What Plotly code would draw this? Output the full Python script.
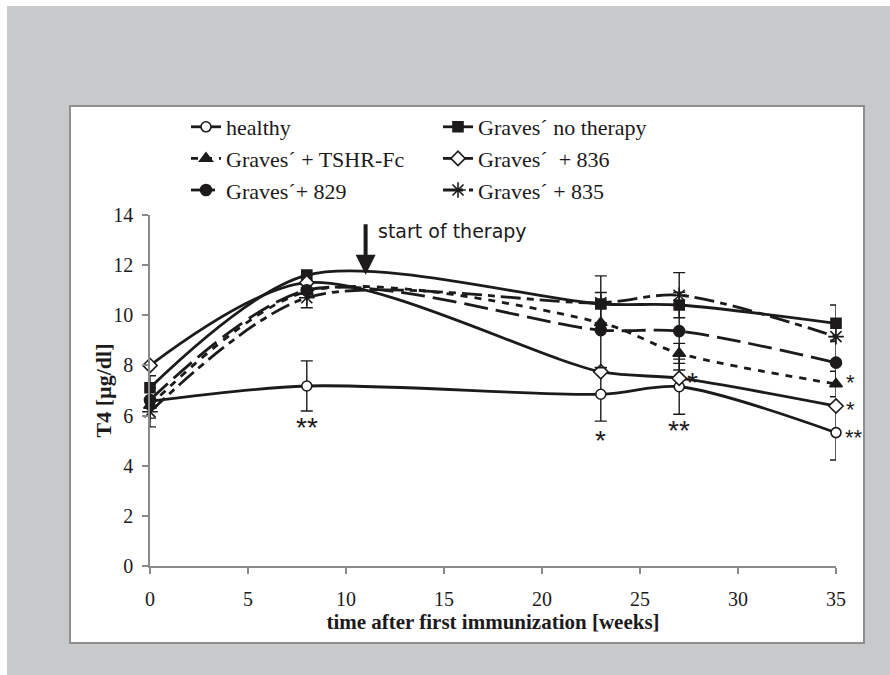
import plotly.graph_objects as go

# ---------------- data ----------------
weeks = [0, 8, 23, 27, 35]
series_names = ["healthy", "Graves\u00b4 no therapy", "Graves\u00b4 + TSHR-Fc",
                "Graves\u00b4 \u00a0+ 836", "Graves\u00b4+ 829", "Graves\u00b4 + 835"]
healthy = [6.57, 7.18, 6.85, 7.15, 5.32]
no_therapy = [7.11, 11.60, 10.45, 10.41, 9.68]
tshr_fc = [6.40, 10.95, 9.70, 8.48, 7.26]
g836 = [8.00, 11.30, 7.75, 7.49, 6.38]
g829 = [6.62, 11.00, 9.41, 9.37, 8.11]
g835 = [6.15, 10.70, 10.50, 10.80, 9.15]

err_healthy = [1.02, 1.00, 1.07, 1.10, 1.09]
err_no_therapy = [0.0, 0.0, 0.0, 0.0, 0.73]
err_tshr_fc = [0.0, 0.0, 0.0, 0.40, 0.51]
err_g836 = [0.0, 0.0, 0.0, 0.0, 0.0]
err_g829 = [0.0, 0.0, 1.50, 1.55, 0.90]
err_g835 = [0.25, 0.40, 1.07, 0.90, 0.0]

# significance marks: week, level, text, placement relative to the point
sig_x = [8, 23, 27, 27, 35, 35, 35]
sig_y = [5.75, 5.25, 5.65, 7.55, 7.48, 6.42, 5.28]
sig_text = ["**", "*", "**", "*", "*", "*", "**"]
sig_side = ["below", "below", "below", "right", "right", "right", "right"]

x_ticks = [0, 5, 10, 15, 20, 25, 30, 35]
y_ticks = [0, 2, 4, 6, 8, 10, 12, 14]

therapy_start_week = 11
therapy_start_level = 11.62

# ---------------- styling ----------------
INK = "#1c1a1b"
values = [healthy, no_therapy, tshr_fc, g836, g829, g835]
errors = [err_healthy, err_no_therapy, err_tshr_fc, err_g836, err_g829, err_g835]
styles = [
    dict(dash="solid", symbol="circle", fill="white", size=10),
    dict(dash="solid", symbol="square", fill=INK, size=10),
    dict(dash="7px,7px", symbol="triangle-up", fill=INK, size=11),
    dict(dash="solid", symbol="diamond", fill="white", size=11),
    dict(dash="24px,8px", symbol="circle", fill=INK, size=11),
    dict(dash="20px,6px,7px,6px", symbol="asterisk-open", fill=INK, size=13),
]

fig = go.Figure()
for name, ys, es, st in zip(series_names, values, errors, styles):
    fig.add_trace(go.Scatter(
        x=weeks, y=ys, name=name, mode="lines+markers", cliponaxis=False,
        line=dict(color=INK, width=2.8, dash=st["dash"], shape="spline", smoothing=0.85),
        marker=dict(symbol=st["symbol"], size=st["size"], color=st["fill"],
                    line=dict(color=INK, width=1.6)),
        error_y=dict(type="data", array=es, visible=True, color=INK,
                     thickness=1.4, width=6),
    ))

# significance markers (the stacked marks at the last week use a smaller box)
last_week = weeks[-1]
for sx, sy, st, side in zip(sig_x, sig_y, sig_text, sig_side):
    below = side == "below"
    stacked = (not below) and sx == last_week
    fsize = 22 if stacked else 28
    fig.add_annotation(x=sx, y=sy, text=st, showarrow=False,
                       xshift=(0 if below else (10 + 4 * len(st) if stacked else 13)),
                       yshift=(-4 if stacked else -6),
                       font=dict(family="Liberation Sans", size=fsize, color=INK),
                       xanchor="center", yanchor="middle")

# therapy arrow + label
fig.add_annotation(x=therapy_start_week, y=therapy_start_level, ax=0, ay=-52,
                   text="", showarrow=True, arrowhead=2, arrowsize=1,
                   arrowwidth=4, arrowcolor=INK)
fig.add_annotation(x=therapy_start_week + 0.55, y=13.35, text="start of therapy",
                   showarrow=False, xanchor="left", yanchor="middle",
                   font=dict(family="DejaVu Sans", size=19, color=INK))

# page background & framed white panel (pixel-matched, paper coordinates)
L, T, PW, PH = 150, 215, 686, 351


def px(xp):
    return (xp - L) / PW


def py(yp):
    return (T + PH - yp) / PH


fig.add_shape(type="rect", xref="paper", yref="paper",
              x0=px(7), x1=px(895), y0=py(6), y1=py(680),
              fillcolor="#c8c9cb", line=dict(width=0), layer="below")
fig.add_shape(type="rect", xref="paper", yref="paper",
              x0=px(70), x1=px(864), y0=py(106), y1=py(643),
              fillcolor="white", line=dict(color="#8e8e8e", width=2), layer="below")

# y-axis title
fig.add_annotation(xref="paper", yref="paper", x=px(103), y=0.5,
                   text="<b>T4 [\u00b5g/dl]</b>", textangle=-90, showarrow=False,
                   xanchor="center", yanchor="middle",
                   font=dict(family="Liberation Serif", size=22, color=INK))

axis_font = dict(family="Liberation Serif", size=20, color=INK)
fig.update_layout(
    width=890, height=675,
    margin=dict(l=L, r=890 - L - PW, t=T, b=675 - T - PH),
    paper_bgcolor="white", plot_bgcolor="rgba(0,0,0,0)",
    showlegend=True,
    legend=dict(orientation="h", x=px(186), y=py(106), xanchor="left", yanchor="top",
                entrywidth=207, entrywidthmode="pixels", traceorder="normal",
                font=dict(family="Liberation Serif", size=22, color=INK),
                bgcolor="rgba(0,0,0,0)", itemsizing="trace"),
    xaxis=dict(range=[0, 35], tickvals=x_ticks, showgrid=False, zeroline=False,
               showline=True, linecolor="#8a8a8a", linewidth=1.5,
               ticks="outside", ticklen=6, tickcolor="#8a8a8a", tickwidth=1.5,
               tickfont=axis_font, ticklabelstandoff=8,
               title=dict(text="<b>time after first immunization [weeks]</b>",
                          font=dict(family="Liberation Serif", size=21, color=INK),
                          standoff=4)),
    yaxis=dict(range=[0, 14], tickvals=y_ticks, showgrid=False, zeroline=False,
               showline=True, linecolor="#8a8a8a", linewidth=1.5,
               ticks="outside", ticklen=6, tickcolor="#8a8a8a", tickwidth=1.5,
               tickfont=axis_font, ticklabelstandoff=5),
)

fig.write_html("out.html")
